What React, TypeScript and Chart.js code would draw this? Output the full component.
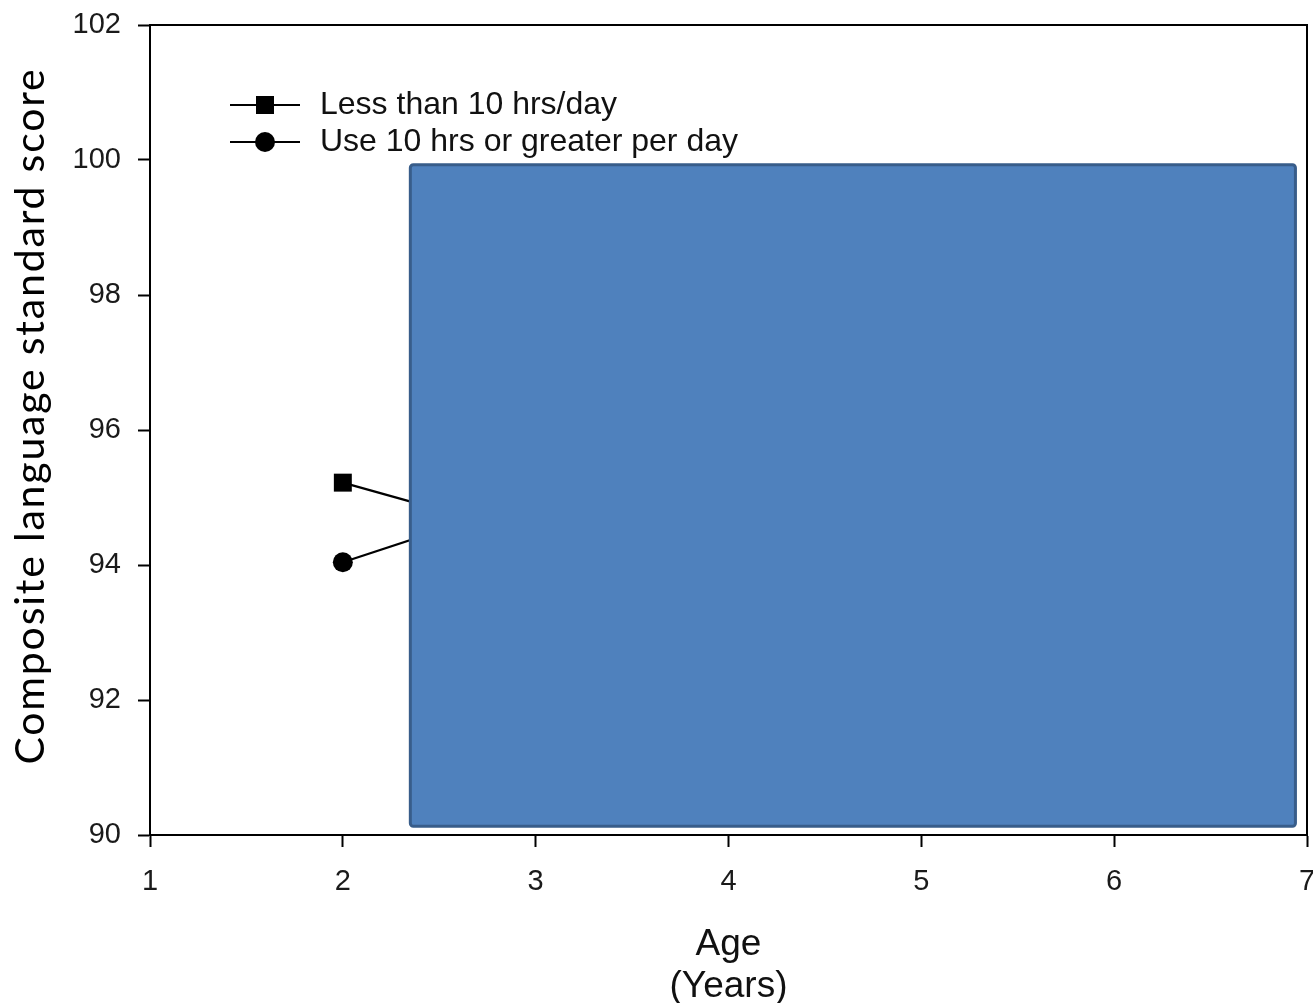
import React, { useEffect, useRef } from "react";
import { Chart, registerables } from "chart.js";

Chart.register(...registerables);

const ages = [2, 3];
const lessThan10 = [95.22, 94.42];
const tenOrMore = [94.04, 94.98];
const seriesNames = ["Less than 10 hrs/day", "Use 10 hrs or greater per day"];
const seriesMarkers = ["rect", "circle"];
const xTicks = [1, 2, 3, 4, 5, 6, 7];
const yTicks = [90, 92, 94, 96, 98, 100, 102];
const yTitle = "Composite language standard score";
const xTitle = ["Age", "(Years)"];
// overlay box in data units: [xMin, xMax, yMin, yMax]
const coverBox = [2.35, 6.94, 90.13, 99.93];

const TICK_FONT = "'Liberation Sans', Arial, sans-serif";

const framePlugin = {
  id: "frame",
  beforeDatasetsDraw(chart: any) {
    const { ctx, chartArea } = chart;
    ctx.save();
    ctx.strokeStyle = "#000";
    ctx.lineWidth = 2;
    ctx.beginPath();
    ctx.moveTo(chartArea.left, chartArea.top);
    ctx.lineTo(chartArea.right, chartArea.top);
    ctx.lineTo(chartArea.right, chartArea.bottom);
    ctx.stroke();
    ctx.restore();
  },
  afterDatasetsDraw(chart: any) {
    const { ctx, scales } = chart;
    const x0 = scales.x.getPixelForValue(coverBox[0]);
    const x1 = scales.x.getPixelForValue(coverBox[1]);
    const y0 = scales.y.getPixelForValue(coverBox[3]);
    const y1 = scales.y.getPixelForValue(coverBox[2]);
    ctx.save();
    ctx.fillStyle = "#4F81BD";
    ctx.strokeStyle = "#385D8A";
    ctx.lineWidth = 3;
    ctx.beginPath();
    if ((ctx as any).roundRect) (ctx as any).roundRect(x0, y0, x1 - x0, y1 - y0, 3);
    else ctx.rect(x0, y0, x1 - x0, y1 - y0);
    ctx.fill();
    ctx.stroke();
    ctx.restore();
  },
  afterDraw(chart: any) {
    const { ctx, chartArea } = chart;
    const left = chartArea.left;
    const top = chartArea.top;
    ctx.save();
    seriesNames.forEach((name, i) => {
      const y = top + 80 + i * 37;
      ctx.strokeStyle = "#000";
      ctx.lineWidth = 2;
      ctx.beginPath();
      ctx.moveTo(left + 80, y);
      ctx.lineTo(left + 150, y);
      ctx.stroke();
      ctx.fillStyle = "#000";
      ctx.beginPath();
      if (seriesMarkers[i] === "rect") {
        ctx.rect(left + 115 - 9, y - 9, 18, 18);
      } else {
        ctx.arc(left + 115, y, 10, 0, Math.PI * 2);
      }
      ctx.fill();
      ctx.fillStyle = "#111";
      ctx.font = `32px ${TICK_FONT}`;
      ctx.textBaseline = "middle";
      ctx.textAlign = "left";
      ctx.fillText(name, left + 170, y);
    });
    // y axis title
    const cy = (chartArea.top + chartArea.bottom) / 2 - 14;
    ctx.translate(31, cy);
    ctx.rotate(-Math.PI / 2);
    ctx.fillStyle = "#000";
    ctx.font = "41px Lato, 'Open Sans', sans-serif";
    (ctx as any).letterSpacing = "1.8px";
    ctx.textAlign = "center";
    ctx.textBaseline = "middle";
    ctx.fillText(yTitle, 0, 0);
    ctx.restore();
  },
};

export default function App() {
  const ref = useRef<HTMLCanvasElement>(null);
  useEffect(() => {
    if (!ref.current) return;
    const chart = new Chart(ref.current, {
      type: "line",
      data: {
        datasets: [
          {
            label: seriesNames[0],
            data: ages.map((a, i) => ({ x: a, y: lessThan10[i] })),
            borderColor: "#000",
            backgroundColor: "#000",
            borderWidth: 2.2,
            pointStyle: "rect",
            pointRadius: 12.7,
            pointBorderWidth: 0,
          },
          {
            label: seriesNames[1],
            data: ages.map((a, i) => ({ x: a, y: tenOrMore[i] })),
            borderColor: "#000",
            backgroundColor: "#000",
            borderWidth: 2.2,
            pointStyle: "circle",
            pointRadius: 10,
            pointBorderWidth: 0,
          },
        ],
      },
      options: {
        responsive: false,
        animation: false,
        layout: { autoPadding: false, padding: { top: 25, right: 6, bottom: 0, left: 0 } },
        plugins: { legend: { display: false }, tooltip: { enabled: false } },
        scales: {
          x: {
            type: "linear",
            min: 1,
            max: 7,
            afterBuildTicks: (s: any) => {
              s.ticks = xTicks.map((v) => ({ value: v }));
            },
            afterFit: (s: any) => {
              s.height = 168;
              s.paddingRight = 0;
              s.paddingLeft = 0;
            },
            grid: { drawOnChartArea: false, drawTicks: true, tickLength: 12, tickWidth: 2, tickColor: "#000" },
            border: { display: true, color: "#000", width: 2 },
            ticks: { color: "#1a1a1a", font: { family: TICK_FONT, size: 29 }, padding: 18 },
            title: {
              display: true,
              text: xTitle,
              color: "#111",
              font: { family: TICK_FONT, size: 37, lineHeight: 1.14 },
              padding: { top: 0, bottom: -5 },
            },
          },
          y: {
            type: "linear",
            min: 90,
            max: 102,
            afterBuildTicks: (s: any) => {
              s.ticks = yTicks.map((v) => ({ value: v }));
            },
            afterFit: (s: any) => {
              s.width = 150;
              s.paddingTop = 0;
              s.paddingBottom = 0;
            },
            grid: { drawOnChartArea: false, drawTicks: true, tickLength: 12, tickWidth: 2, tickColor: "#000" },
            border: { display: true, color: "#000", width: 2 },
            ticks: { color: "#1a1a1a", font: { family: TICK_FONT, size: 29 }, padding: 17 },
            title: { display: false },
          },
        },
      },
      plugins: [framePlugin],
    } as any);
    return () => chart.destroy();
  }, []);
  return (
    <div style={{ position: "absolute", left: 0, top: 0, width: 1313, height: 1003, background: "#fff" }}>
      <canvas ref={ref} width={1313} height={1003} style={{ display: "block" }} />
    </div>
  );
}
